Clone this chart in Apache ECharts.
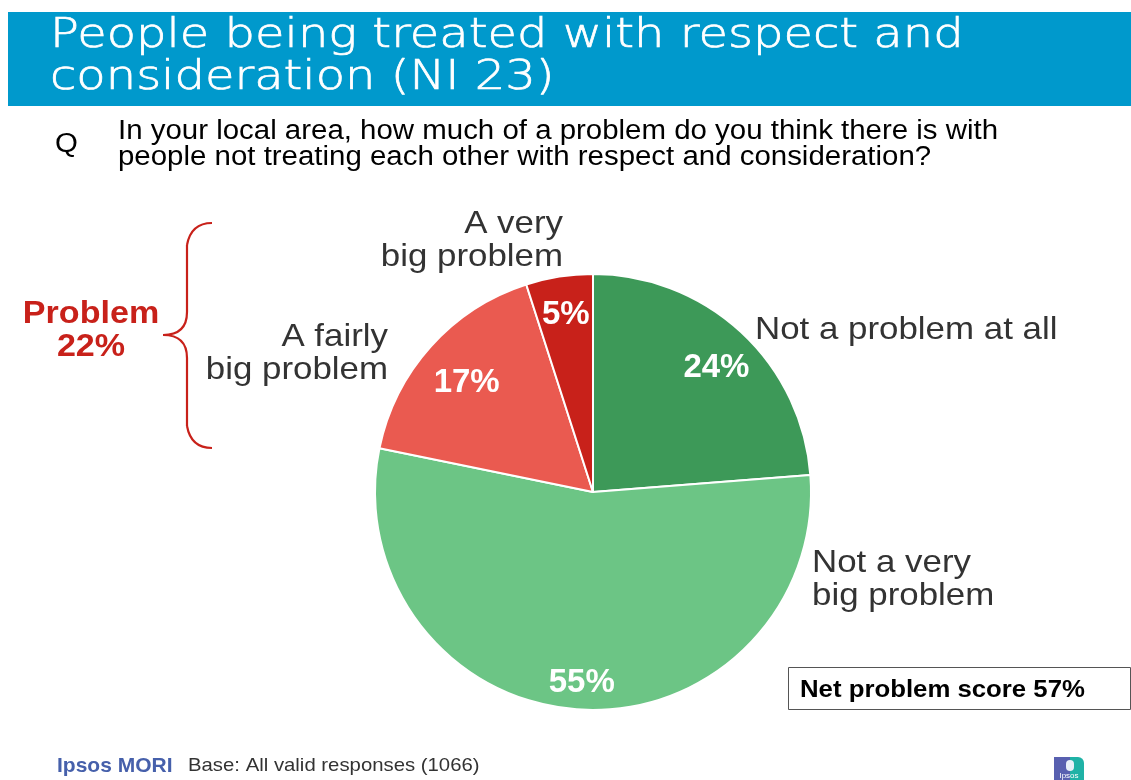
<!DOCTYPE html>
<html>
<head>
<meta charset="utf-8">
<script src="https://cdn.jsdelivr.net/npm/echarts@6/dist/echarts.min.js"></script>
<style>
  html, body { margin: 0; padding: 0; background: #fff; }
  #chart { width: 1131px; height: 780px; }
</style>
</head>
<body>
<div id="chart"></div>
<script>
// Survey answers, clockwise from 12 o'clock
const categories = ['Not a problem at all', 'Not a very big problem', 'A fairly big problem', 'A very big problem'];
const shares = [24, 55, 17, 5];
const sliceColors = ['#3d9958', '#6cc585', '#ea5a50', '#c8211a'];
const percentLabels = ['24%', '55%', '17%', '5%'];
const problemTotal = '22%';
const netScore = '57%';
const baseCount = 1066;

const chart = echarts.init(document.getElementById('chart'), null, { renderer: 'canvas' });

const CX = 593, CY = 492, R = 218;
const labelFont = '"Liberation Sans", Arial, sans-serif';
const WIDE = 1.09; // slide text is set slightly wide
// small nudges for the in-slice percentage labels
const pctNudge = [[0, 9], [0, 9], [9, 12], [1, 2]];

// outer category labels, split over two lines where the slide breaks them
const nameText = (i, x, y, align) => ({
  type: 'text', x, y, scaleX: WIDE,
  style: { text: categories[i].replace(/^(A very|A fairly|Not a very) /, '$1\n'), fill: '#333', font: '32px ' + labelFont, align, verticalAlign: 'middle', lineHeight: 33 }
});

// curly bracket built from curve and line pieces
const red = '#c8211a';
const seg = (shape, type) => ({ type, shape, style: { stroke: red, lineWidth: 2.2, fill: null } });
const bracket = [
  seg({ x1: 212, y1: 223, x2: 187, y2: 245, cpx1: 191, cpy1: 223 }, 'bezierCurve'),
  seg({ x1: 187, y1: 245, x2: 187, y2: 312 }, 'line'),
  seg({ x1: 187, y1: 312, x2: 163, y2: 335, cpx1: 187, cpy1: 335 }, 'bezierCurve'),
  seg({ x1: 163, y1: 335, x2: 187, y2: 358, cpx1: 187, cpy1: 335 }, 'bezierCurve'),
  seg({ x1: 187, y1: 358, x2: 187, y2: 426 }, 'line'),
  seg({ x1: 187, y1: 426, x2: 212, y2: 448, cpx1: 191, cpy1: 448 }, 'bezierCurve')
];

chart.setOption({
  animation: false,
  series: [
    {
      type: 'pie',
      center: [CX, CY],
      radius: [0, R],
      startAngle: 90,
      clockwise: true,
      silent: true,
      itemStyle: { borderColor: '#fff', borderWidth: 2 },
      label: { show: false },
      labelLine: { show: false },
      data: categories.map((name, i) => ({ name, value: shares[i], itemStyle: { color: sliceColors[i] } }))
    },
    {
      // transparent ring that carries the percentage labels at ~0.82 of the radius
      type: 'pie',
      center: [CX, CY],
      radius: [R * 0.64, R],
      startAngle: 90,
      clockwise: true,
      silent: true,
      itemStyle: { color: 'rgba(0,0,0,0)' },
      label: {
        show: true, position: 'inside', color: '#fff', fontWeight: 'bold', fontSize: 33, fontFamily: 'Liberation Sans',
        formatter: p => percentLabels[p.dataIndex]
      },
      labelLine: { show: false },
      data: categories.map((name, i) => ({ name, value: shares[i], label: { offset: pctNudge[i] } }))
    }
  ],
  graphic: [
    // title band
    { type: 'rect', shape: { x: 8, y: 12, width: 1123, height: 94 }, style: { fill: '#0099cc' } },
    { type: 'text', x: 50, y: 15, scaleX: 1.17, style: { text: 'People being treated with respect and\nconsideration (NI 23)', fill: '#fff', stroke: '#fff', lineWidth: 0.7, font: '200 41px "DejaVu Sans", sans-serif', lineHeight: 42 } },
    // question
    { type: 'text', x: 55, y: 145, scaleX: WIDE, style: { text: 'Q', fill: '#000', font: '27px ' + labelFont, verticalAlign: 'middle', lineHeight: 52 } },
    { type: 'text', x: 118, y: 145, scaleX: WIDE, style: { text: 'In your local area, how much of a problem do you think there is with\npeople not treating each other with respect and consideration?', fill: '#000', font: '27px ' + labelFont, lineHeight: 26, verticalAlign: 'middle' } },
    // category names
    nameText(0, 755, 330, 'left'),
    nameText(1, 812, 580, 'left'),
    nameText(2, 388, 354, 'right'),
    nameText(3, 563, 241, 'right'),
    // problem bracket
    ...bracket,
    { type: 'text', x: 91, y: 330.5, scaleX: 1.1, style: { text: 'Problem\n' + problemTotal, fill: red, font: 'bold 31px ' + labelFont, align: 'center', verticalAlign: 'middle', lineHeight: 33 } },
    // net score box
    { type: 'rect', shape: { x: 788.5, y: 667.5, width: 342, height: 42 }, style: { fill: '#fff', stroke: '#555', lineWidth: 1 } },
    { type: 'text', x: 800, y: 691, scaleX: 1.12, style: { text: 'Net problem score ' + netScore, fill: '#000', font: 'bold 23px ' + labelFont, verticalAlign: 'middle' } },
    // footer
    { type: 'text', x: 57, y: 766, style: { text: 'Ipsos MORI', fill: '#4660ab', font: 'bold 21px ' + labelFont, verticalAlign: 'middle' } },
    { type: 'text', x: 188, y: 766, scaleX: 1.07, style: { text: 'Base: All valid responses (' + baseCount + ')', fill: '#333', font: '19px ' + labelFont, verticalAlign: 'middle' } },
    // small logo mark
    { type: 'rect', shape: { x: 1054, y: 757, width: 16, height: 23 }, style: { fill: '#5860b0' } },
    { type: 'rect', shape: { x: 1070, y: 757, width: 14, height: 23, r: [0, 6, 0, 0] }, style: { fill: '#1fb2a6' } },
    { type: 'rect', shape: { x: 1066, y: 760, width: 8, height: 11, r: 4 }, style: { fill: '#e8f0f8' } },
    { type: 'text', x: 1069, y: 776, style: { text: 'Ipsos', fill: '#fff', font: '8px ' + labelFont, align: 'center', verticalAlign: 'middle' } }
  ]
});
</script>
</body>
</html>
